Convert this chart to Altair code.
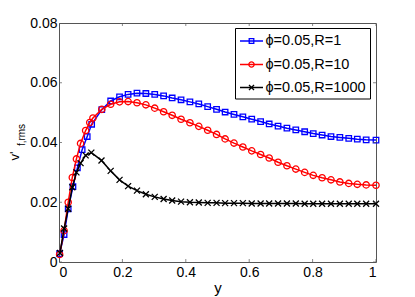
import altair as alt
import pandas as pd

series = ["ϕ=0.05,R=1", "ϕ=0.05,R=10", "ϕ=0.05,R=1000"]
colors = ["#0000ff", "#ff0000", "#000000"]

x_r1 = [0.002, 0.016, 0.029, 0.044, 0.058, 0.073, 0.089, 0.103, 0.135, 0.163,
        0.191, 0.218, 0.246, 0.274, 0.302, 0.330, 0.357, 0.385, 0.413, 0.441,
        0.469, 0.497, 0.524, 0.552, 0.580, 0.608, 0.636, 0.663, 0.691, 0.719,
        0.747, 0.775, 0.802, 0.830, 0.858, 0.886, 0.914, 0.941, 0.969, 1.0]
v_r1 = [0.0028, 0.0092, 0.0178, 0.0252, 0.0315, 0.0376, 0.0420, 0.0461, 0.0510, 0.0539,
        0.0553, 0.0561, 0.0565, 0.0564, 0.0561, 0.0556, 0.0549, 0.0543, 0.0536, 0.0529,
        0.0520, 0.0511, 0.0502, 0.0494, 0.0486, 0.0478, 0.0470, 0.0462, 0.0455, 0.0448,
        0.0442, 0.0436, 0.0430, 0.0425, 0.0420, 0.0417, 0.0414, 0.0411, 0.0409, 0.0408]

x_r10 = [0.002, 0.016, 0.029, 0.042, 0.055, 0.068, 0.084, 0.097, 0.107, 0.135,
         0.163, 0.191, 0.218, 0.246, 0.274, 0.302, 0.330, 0.357, 0.385, 0.413,
         0.441, 0.469, 0.497, 0.524, 0.552, 0.580, 0.608, 0.636, 0.663, 0.691,
         0.719, 0.747, 0.775, 0.802, 0.830, 0.858, 0.886, 0.914, 0.941, 0.969, 1.0]
v_r10 = [0.0025, 0.0105, 0.0200, 0.0283, 0.0345, 0.0397, 0.0440, 0.0467, 0.0482, 0.0511,
         0.0528, 0.0536, 0.0537, 0.0533, 0.0526, 0.0515, 0.0503, 0.0491, 0.0478, 0.0466,
         0.0454, 0.0441, 0.0427, 0.0412, 0.0398, 0.0385, 0.0372, 0.0360, 0.0348, 0.0334,
         0.0322, 0.0311, 0.0300, 0.0290, 0.0282, 0.0275, 0.0268, 0.0263, 0.0260, 0.0258, 0.0257]

x_r1000 = [0.003, 0.016, 0.029, 0.042, 0.055, 0.068, 0.084, 0.102, 0.134, 0.163,
           0.191, 0.218, 0.246, 0.274, 0.302, 0.330, 0.357, 0.385, 0.413, 0.441,
           0.469, 0.497, 0.524, 0.552, 0.580, 0.608, 0.636, 0.663, 0.691, 0.719,
           0.747, 0.775, 0.802, 0.830, 0.858, 0.886, 0.914, 0.941, 0.969, 1.0]
v_r1000 = [0.0030, 0.0112, 0.0178, 0.0250, 0.0300, 0.0331, 0.0357, 0.0366, 0.0340, 0.0305,
           0.0275, 0.0254, 0.0239, 0.0227, 0.0218, 0.0211, 0.0206, 0.0202, 0.0200, 0.0199,
           0.0198, 0.0198, 0.0197, 0.0197, 0.0197, 0.0196, 0.0196, 0.0196, 0.0196, 0.0196,
           0.0196, 0.0195, 0.0195, 0.0195, 0.0195, 0.0195, 0.0195, 0.0195, 0.0195, 0.0195]

x_ticks = [0, 0.2, 0.4, 0.6, 0.8, 1]
y_ticks = [0, 0.02, 0.04, 0.06, 0.08]

FONT = "Liberation Sans"
GREY = "#555555"
X_PATH = "M-1,-1L1,1M-1,1L1,-1"
shapes = ["square", "circle", X_PATH]
sizes = [30, 40, 36]

W, H = 317, 239

xs = alt.Scale(domain=[0, 1], nice=False)
ys = alt.Scale(domain=[0, 0.08], nice=False)
xaxis = alt.Axis(values=x_ticks, format="~g", title="y", titleFont=FONT, titleFontSize=15,
                 titleFontWeight="normal", titleColor="black", titlePadding=1,
                 labelFont=FONT, labelFontSize=14, labelColor="black", labelPadding=3,
                 ticks=False, domain=False, grid=False)
yaxis = alt.Axis(values=y_ticks, format="~g", title=None,
                 labelFont=FONT, labelFontSize=14, labelColor="black", labelPadding=2,
                 ticks=False, domain=False, grid=False)

X = lambda: alt.X("y:Q", scale=xs, axis=xaxis)
Y = lambda: alt.Y("v:Q", scale=ys, axis=yaxis)

layers = []
for i, (xv, vv) in enumerate([(x_r1, v_r1), (x_r10, v_r10), (x_r1000, v_r1000)]):
    df = pd.DataFrame({"y": xv, "v": vv})
    base = alt.Chart(df).encode(x=X(), y=Y())
    layers.append(base.mark_line(color=colors[i], strokeWidth=1.5))
    layers.append(base.mark_point(shape=shapes[i], color=colors[i], filled=False,
                                  size=sizes[i], strokeWidth=1.3, opacity=1))

# inner ticks (MATLAB style)
ydf = pd.DataFrame({"v": y_ticks})
xdf = pd.DataFrame({"y": x_ticks})
for px in [0, W]:
    layers.append(alt.Chart(ydf).mark_tick(orient="horizontal", size=6, thickness=1,
                                           color=GREY, clip=True)
                  .encode(x=alt.value(px), y=Y()))
for py in [0, H]:
    layers.append(alt.Chart(xdf).mark_tick(orient="vertical", size=6, thickness=1,
                                           color=GREY, clip=True)
                  .encode(x=X(), y=alt.value(py)))

one = pd.DataFrame({"k": [0]})

# legend
layers.append(alt.Chart(one).mark_rect(fill="white", stroke="black", strokeWidth=1)
              .encode(x=alt.value(176.5), x2=alt.value(311.5), y=alt.value(5.5), y2=alt.value(76)))
row_y = [18, 41.5, 64.5]
for i in range(3):
    layers.append(alt.Chart(one).mark_rule(color=colors[i], strokeWidth=1.5)
                  .encode(x=alt.value(181), x2=alt.value(204), y=alt.value(row_y[i])))
    layers.append(alt.Chart(one).mark_point(shape=shapes[i], color=colors[i], filled=False,
                                            size=sizes[i] * 0.7, strokeWidth=1.3, opacity=1)
                  .encode(x=alt.value(192.5), y=alt.value(row_y[i])))
    layers.append(alt.Chart(one).mark_text(align="left", baseline="middle", font=FONT,
                                           fontSize=14.5, color="black")
                  .encode(x=alt.value(206.5), y=alt.value(row_y[i]), text=alt.value(series[i])))

# y-axis title v'_{f,rms}
layers.append(alt.Chart(one).mark_text(angle=270, align="center", baseline="alphabetic",
                                       font=FONT, fontSize=13, color="black")
              .encode(x=alt.value(-40), y=alt.value(133), text=alt.value("v'")))
layers.append(alt.Chart(one).mark_text(angle=270, align="center", baseline="alphabetic",
                                       font=FONT, fontSize=10, color="black")
              .encode(x=alt.value(-34), y=alt.value(112), text=alt.value("f,rms")))

chart = alt.layer(*layers).properties(
    width=W, height=H,
    autosize=alt.AutoSizeParams(type="none"),
    padding={"left": 51, "top": 15, "right": 31, "bottom": 34},
    background="white",
).configure_view(stroke=GREY, strokeWidth=1)

chart.save("out.html", embed_options={"renderer": "svg", "actions": False})
